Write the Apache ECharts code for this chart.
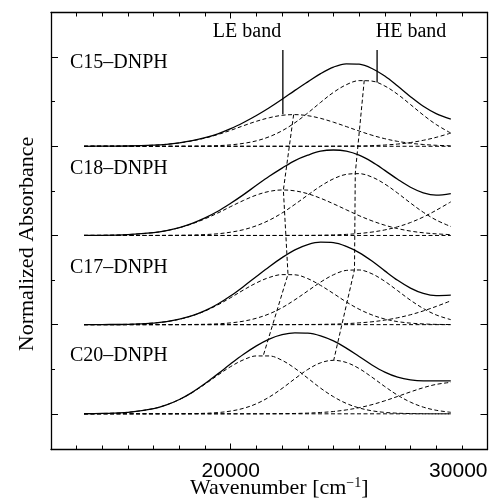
<!DOCTYPE html>
<html>
<head>
<meta charset="utf-8">
<title>Normalized absorbance of Cn-DNPH</title>
<script src="https://cdn.jsdelivr.net/npm/echarts@6/dist/echarts.min.js"></script>
<style>
  html, body { margin: 0; padding: 0; background: #fff; }
  #chart { width: 494px; height: 502px; }
</style>
</head>
<body>
<div id="chart"></div>
<script>
// wavenumber samples [cm-1], 700 nm .. 350 nm
var xs = [14286, 15000, 16000, 17000, 17500, 18000, 18500, 19000, 19500, 20000, 20500, 21000, 21500, 22000,
  22500, 23000, 23500, 24000, 24500, 25000, 25500, 26000, 26500, 27000, 27500, 28000, 28571]

// spectra, stacked upward by offsets
var names = ['C15–DNPH', 'C18–DNPH', 'C17–DNPH', 'C20–DNPH']
var offsets = [3, 2, 1, 0]

// C15
var c15Total = [0, 0.001, 0.003, 0.012, 0.022, 0.039, 0.063, 0.096, 0.14, 0.197, 0.267, 0.345, 0.432, 0.527, 0.627, 0.722, 0.815, 0.888, 0.925, 0.92, 0.872, 0.787, 0.675, 0.556, 0.448, 0.366, 0.305]
var c15LE = [0, 0.001, 0.003, 0.012, 0.022, 0.038, 0.061, 0.092, 0.132, 0.179, 0.231, 0.28, 0.32, 0.347, 0.355, 0.343, 0.313, 0.27, 0.221, 0.171, 0.124, 0.085, 0.055, 0.034, 0.02, 0.011, 0.005]
var c15HE = [0, 0, 0, 0, 0, 0, 0.001, 0.003, 0.007, 0.016, 0.033, 0.061, 0.107, 0.174, 0.264, 0.373, 0.492, 0.604, 0.69, 0.736, 0.731, 0.676, 0.583, 0.468, 0.35, 0.244, 0.148]
var c15UV = [0, 0, 0, 0, 0, 0, 0, 0, 0, 0, 0, 0, 0, 0, 0, 0, 0, 0.001, 0.002, 0.003, 0.007, 0.014, 0.025, 0.042, 0.067, 0.1, 0.148]
// C18
var c18Total = [0.001, 0.002, 0.01, 0.032, 0.055, 0.089, 0.136, 0.197, 0.271, 0.361, 0.458, 0.562, 0.663, 0.755, 0.84, 0.9, 0.945, 0.958, 0.945, 0.9, 0.825, 0.73, 0.63, 0.54, 0.478, 0.452, 0.47]
var c18LE = [0.001, 0.002, 0.01, 0.032, 0.054, 0.087, 0.131, 0.187, 0.252, 0.324, 0.393, 0.453, 0.494, 0.51, 0.5, 0.468, 0.417, 0.355, 0.288, 0.222, 0.164, 0.115, 0.077, 0.049, 0.03, 0.018, 0.009]
var c18HE = [0, 0, 0, 0, 0.001, 0.002, 0.005, 0.01, 0.019, 0.037, 0.065, 0.109, 0.171, 0.252, 0.349, 0.453, 0.553, 0.635, 0.685, 0.693, 0.655, 0.577, 0.475, 0.364, 0.26, 0.173, 0.1]
var c18UV = [0, 0, 0, 0, 0, 0, 0, 0, 0, 0, 0, 0, 0, 0, 0.001, 0.001, 0.003, 0.006, 0.012, 0.022, 0.038, 0.062, 0.097, 0.145, 0.207, 0.282, 0.377]
// C17
var c17Total = [0, 0.001, 0.004, 0.018, 0.034, 0.061, 0.101, 0.157, 0.231, 0.323, 0.428, 0.54, 0.65, 0.751, 0.839, 0.898, 0.925, 0.92, 0.878, 0.808, 0.713, 0.603, 0.497, 0.41, 0.35, 0.325, 0.33]
var c17LE = [0, 0.001, 0.004, 0.018, 0.034, 0.06, 0.099, 0.153, 0.222, 0.303, 0.389, 0.468, 0.529, 0.561, 0.559, 0.516, 0.44, 0.349, 0.255, 0.173, 0.109, 0.063, 0.034, 0.017, 0.008, 0.003, 0.001]
var c17HE = [0, 0, 0, 0, 0, 0.001, 0.002, 0.004, 0.009, 0.02, 0.039, 0.072, 0.121, 0.19, 0.279, 0.378, 0.477, 0.559, 0.608, 0.613, 0.57, 0.486, 0.381, 0.274, 0.181, 0.109, 0.056]
var c17UV = [0, 0, 0, 0, 0, 0, 0, 0, 0, 0, 0, 0, 0, 0, 0.001, 0.002, 0.003, 0.006, 0.011, 0.02, 0.032, 0.051, 0.077, 0.111, 0.154, 0.204, 0.267]
// C20
var c20Total = [0.001, 0.004, 0.017, 0.059, 0.101, 0.161, 0.241, 0.339, 0.448, 0.561, 0.668, 0.762, 0.838, 0.887, 0.908, 0.905, 0.875, 0.818, 0.737, 0.643, 0.548, 0.468, 0.411, 0.38, 0.369, 0.37, 0.37]
var c20LE = [0.001, 0.004, 0.017, 0.059, 0.101, 0.16, 0.239, 0.333, 0.434, 0.53, 0.606, 0.649, 0.649, 0.6, 0.51, 0.4, 0.288, 0.192, 0.117, 0.066, 0.034, 0.016, 0.007, 0.003, 0.001, 0, 0]
var c20HE = [0, 0, 0, 0, 0, 0.001, 0.002, 0.006, 0.014, 0.031, 0.062, 0.113, 0.188, 0.285, 0.394, 0.497, 0.572, 0.6, 0.576, 0.508, 0.411, 0.306, 0.209, 0.131, 0.075, 0.04, 0.017]
var c20UV = [0, 0, 0, 0, 0, 0, 0, 0, 0, 0, 0, 0, 0.001, 0.002, 0.004, 0.008, 0.015, 0.026, 0.044, 0.069, 0.103, 0.146, 0.195, 0.246, 0.293, 0.33, 0.353]

// band peak positions (same order as names), joined by the dashed guide lines
var lePeakX = [22450, 22050, 22230, 21270]
var lePeakY = [0.355, 0.51, 0.565, 0.655]
var hePeakX = [25200, 24850, 24820, 24010]
var hePeakY = [0.74, 0.695, 0.617, 0.6]

// "LE band" / "HE band" markers on C15
var markerX = [22030, 25700]
var markerLow = [3.36, 3.714]
var markerHigh = 4.08

var xTickLabels = [20000, 30000]
var yMajorTicks = [0, 1, 2, 3, 4]
var yMinorTicks = [0.5, 1.5, 2.5, 3.5]

var spectra = [
  [c15Total, c15LE, c15HE, c15UV],
  [c18Total, c18LE, c18HE, c18UV],
  [c17Total, c17LE, c17HE, c17UV],
  [c20Total, c20LE, c20HE, c20UV]
]

var chart = echarts.init(document.getElementById('chart'))

var dashed = { color: '#000', width: 1, type: [4, 2.5] }
var solid = { color: '#000', width: 1.3 }

function shifted (vals, off) {
  return xs.map(function (x, i) { return [x, vals[i] + off] })
}

var series = []
spectra.forEach(function (s, k) {
  var off = offsets[k]
  // baseline
  series.push({
    type: 'line', silent: true, symbol: 'none', lineStyle: dashed,
    data: [[xs[0], off], [xs[xs.length - 1], off]]
  })
  for (var j = 1; j < 4; j++) {
    series.push({
      type: 'line', silent: true, symbol: 'none', smooth: 0.35, lineStyle: dashed,
      data: shifted(s[j], off)
    })
  }
  series.push({
    name: names[k], type: 'line', silent: true, symbol: 'none', smooth: 0.35, lineStyle: solid, z: 5,
    data: shifted(s[0], off)
  })
})

series.push({
  type: 'line', silent: true, symbol: 'none', lineStyle: dashed,
  data: lePeakX.map(function (x, i) { return [x, lePeakY[i] + offsets[i]] })
})
series.push({
  type: 'line', silent: true, symbol: 'none', lineStyle: dashed,
  data: hePeakX.map(function (x, i) { return [x, hePeakY[i] + offsets[i]] })
})
markerX.forEach(function (x, i) {
  series.push({
    type: 'line', silent: true, symbol: 'none', lineStyle: solid,
    data: [[x, markerLow[i]], [x, markerHigh]]
  })
})

function xAx (pos, ticks, len, showLine, labels) {
  var ax = {
    type: 'value', position: pos, min: 13000, max: 30000,
    axisLine: { show: showLine, onZero: false, lineStyle: { color: '#000', width: 1.3 } },
    axisTick: { show: true, inside: true, length: len, lineStyle: { color: '#000', width: 1 } },
    axisLabel: { show: false },
    splitLine: { show: false }
  }
  if (ticks) ax.axisTick.customValues = ticks
  else ax.interval = 1000
  if (labels) {
    ax.axisLabel = {
      show: true, customValues: xTickLabels, margin: 11,
      color: '#000', fontFamily: 'Liberation Sans', fontSize: 21,
      alignMaxLabel: 'right',
      formatter: function (v) { return String(v) }
    }
    ax.name = 'Wavenumber [cm{sup|−1}]'
    ax.nameLocation = 'middle'
    ax.nameGap = 27
    ax.nameMoveOverlap = false
    ax.nameTextStyle = {
      color: '#000', fontFamily: 'Liberation Serif', fontSize: 22, padding: [0, 0, 0, 20],
      rich: { sup: { fontFamily: 'Liberation Serif', fontSize: 14, verticalAlign: 'top', padding: [0, 0, 10, 0] } }
    }
  }
  return ax
}

function yAx (pos, ticks, len, showLine, withName) {
  var ax = {
    type: 'value', position: pos, min: -0.4, max: 4.5,
    axisLine: { show: showLine, onZero: false, lineStyle: { color: '#000', width: 1.3 } },
    axisTick: { show: true, inside: true, length: len, customValues: ticks, lineStyle: { color: '#000', width: 1 } },
    axisLabel: { show: false },
    splitLine: { show: false }
  }
  if (withName) {
    ax.name = 'Normalized Absorbance'
    ax.nameLocation = 'middle'
    ax.nameGap = 13
    ax.nameMoveOverlap = false
    ax.nameTextStyle = { color: '#000', fontFamily: 'Liberation Serif', fontSize: 22, padding: [0, 26, 0, 0] }
  }
  return ax
}

var serif = '20px "Liberation Serif"'
function txt (s, x, y, align) {
  return { type: 'text', x: x, y: y, silent: true, style: { text: s, font: serif, fill: '#000', textAlign: align || 'left', textVerticalAlign: 'middle' } }
}

chart.setOption({
  animation: false,
  backgroundColor: '#fff',
  grid: { left: 51, top: 12.5, width: 436.5, height: 437, outerBoundsMode: 'none' },
  xAxis: [
    xAx('bottom', null, 4, true, true),
    xAx('top', null, 4, true, false),
    xAx('bottom', xTickLabels, 6, false, false),
    xAx('top', xTickLabels, 6, false, false)
  ],
  yAxis: [
    yAx('left', yMajorTicks, 7, true, true),
    yAx('left', yMinorTicks, 4, false, false),
    yAx('right', yMajorTicks, 7, true, false),
    yAx('right', yMinorTicks, 4, false, false)
  ],
  graphic: [
    txt(names[0], 70, 63),
    txt(names[1], 70, 169),
    txt(names[2], 70, 268),
    txt(names[3], 70, 356),
    txt('LE band', 247, 32, 'center'),
    txt('HE band', 411, 32, 'center')
  ],
  series: series
})
</script>
</body>
</html>
